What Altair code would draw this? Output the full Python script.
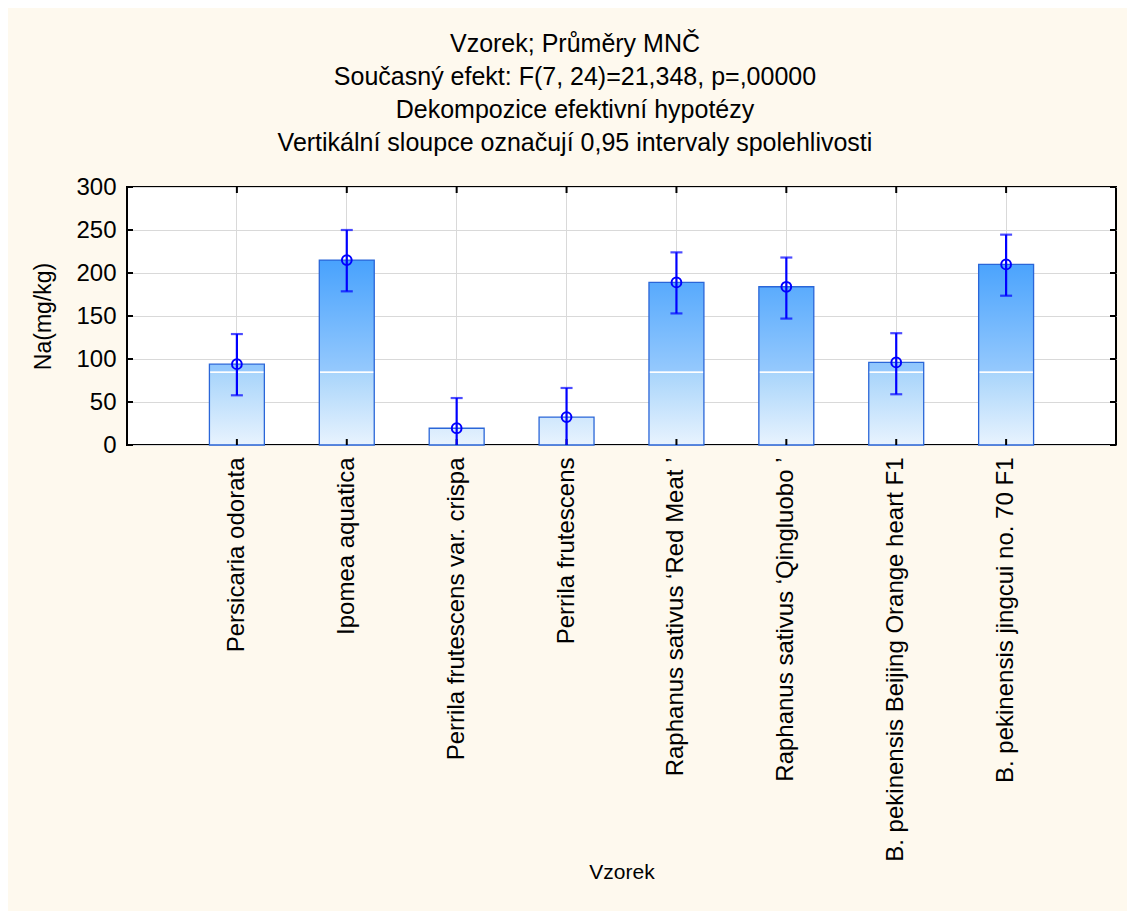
import altair as alt
import pandas as pd

categories = [
    "Persicaria odorata",
    "Ipomea aquatica",
    "Perrila frutescens var. crispa",
    "Perrila frutescens",
    "Raphanus sativus \u2018Red Meat \u2019",
    "Raphanus sativus \u2018Qingluobo \u2019",
    "B. pekinensis Beijing Orange heart F1",
    "B. pekinensis jingcui no. 70 F1",
]
means = [94, 215, 19.5, 32.5, 189, 184, 96, 210]
ci_low = [57.8, 178.7, -16, -2, 153, 147, 59, 173.6]
ci_high = [129, 250, 54.6, 66.3, 224, 218, 130, 244.6]
y_ticks = [0, 50, 100, 150, 200, 250, 300]

title_lines = [
    "Vzorek; Pr\u016fm\u011bry MN\u010c",
    "Sou\u010dasn\u00fd efekt: F(7, 24)=21,348, p=,00000",
    "Dekompozice efektivn\u00ed hypot\u00e9zy",
    "Vertik\u00e1ln\u00ed sloupce ozna\u010duj\u00ed 0,95 intervaly spolehlivosti",
]

YMAX = 300
W, H = 989, 258

df = pd.DataFrame({"cat": categories, "mean": means, "lo": ci_low, "hi": ci_high})
df_y = pd.DataFrame({"v": y_ticks})
df_x = pd.DataFrame({"cat": categories})

xscale = alt.Scale(domain=categories, paddingInner=0.5, paddingOuter=0.75)
yscale = alt.Scale(domain=[0, YMAX], nice=False)

x_enc = alt.X(
    "cat:N",
    scale=xscale,
    sort=None,
    title="Vzorek",
    axis=alt.Axis(
        labelAngle=-90,
        labelAlign="right",
        labelBaseline="middle",
        labelPadding=12,
        labelFontSize=24,
        labelLimit=1000,
        labelColor="black",
        labelFont="Liberation Sans",
        ticks=False,
        domain=False,
        grid=True,
        gridColor="#d9d9d9",
        bandPosition=0.5,
        titleFontSize=21,
        titleFont="Liberation Sans",
        titleFontWeight="normal",
        titleColor="black",
        titleY=427,
        titleBaseline="middle",
    ),
)
y_enc = alt.Y(
    "mean:Q",
    scale=yscale,
    title="Na(mg/kg)",
    axis=alt.Axis(
        values=y_ticks,
        labelFontSize=24,
        labelPadding=11,
        labelColor="black",
        labelFont="Liberation Sans",
        ticks=False,
        domain=False,
        grid=True,
        gridColor="#d9d9d9",
        titleFontSize=23,
        titleFont="Liberation Sans",
        titleFontWeight="normal",
        titleColor="black",
        titlePadding=20,
    ),
)


def off(v):
    return (YMAX - v) / YMAX


layers = []
for i, (c, m) in enumerate(zip(categories, means)):
    y1 = (m - YMAX) / m
    grad = alt.LinearGradient(
        gradient="linear",
        x1=0, x2=0, y1=y1, y2=1,
        stops=[
            alt.GradientStop(offset=0, color="#3596fb"),
            alt.GradientStop(offset=off(215), color="#48a2fd"),
            alt.GradientStop(offset=off(85.6), color="#95c9fd"),
            alt.GradientStop(offset=off(85.4), color="#ffffff"),
            alt.GradientStop(offset=off(83.6), color="#ffffff"),
            alt.GradientStop(offset=off(83.4), color="#a9d5fb"),
            alt.GradientStop(offset=1, color="#e8f3fe"),
        ],
    )
    bar = (
        alt.Chart(df)
        .transform_filter(alt.datum.cat == c)
        .mark_bar(color=grad, stroke="#2a66d8", strokeWidth=1.3)
        .encode(x=x_enc if i == 0 else alt.X("cat:N", scale=xscale, sort=None), y=y_enc if i == 0 else alt.Y("mean:Q", scale=yscale))
    )
    layers.append(bar)

x_plain = alt.X("cat:N", scale=xscale, sort=None)

err = alt.Chart(df).mark_rule(color="#0000ff", strokeWidth=2.2, clip=True).encode(
    x=x_plain, y=alt.Y("lo:Q", scale=yscale), y2="hi:Q"
)
cap_hi = alt.Chart(df).mark_tick(color="#0000ff", size=12, thickness=2.2, clip=True).encode(
    x=x_plain, y=alt.Y("hi:Q", scale=yscale)
)
cap_lo = alt.Chart(df).mark_tick(color="#0000ff", size=12, thickness=2.2, clip=True).encode(
    x=x_plain, y=alt.Y("lo:Q", scale=yscale)
)
pts = alt.Chart(df).mark_point(shape="circle", filled=False, color="#0000ff", size=95, strokeWidth=2, opacity=1).encode(
    x=x_plain, y=alt.Y("mean:Q", scale=yscale)
)

tick_bottom = alt.Chart(df_x).mark_rule(color="black", strokeWidth=2).encode(
    x=x_plain, y=alt.value(H - 6), y2=alt.value(H)
)
tick_top = alt.Chart(df_x).mark_rule(color="black", strokeWidth=2).encode(
    x=x_plain, y=alt.value(0), y2=alt.value(6)
)
tick_right = alt.Chart(df_y).mark_rule(color="black", strokeWidth=2).encode(
    y=alt.Y("v:Q", scale=yscale), x=alt.value(W - 6), x2=alt.value(W)
)
tick_left = alt.Chart(df_y).mark_rule(color="black", strokeWidth=2).encode(
    y=alt.Y("v:Q", scale=yscale), x=alt.value(0), x2=alt.value(6)
)

chart = (
    alt.layer(*layers, tick_bottom, tick_top, tick_left, tick_right, err, cap_hi, cap_lo, pts)
    .properties(
        width=W,
        height=H,
        background="#fef9ee",
        padding={"left": 24, "top": 24, "right": 10, "bottom": 29},
        title=alt.TitleParams(
            text=title_lines,
            fontSize=25,
            font="Liberation Sans",
            fontWeight="normal",
            color="black",
            lineHeight=33,
            anchor="middle",
            frame="bounds",
            offset=19,
        ),
    )
    .configure_view(stroke="black", strokeWidth=2, fill="white")
)

chart.save("out.html", embed_options={"renderer": "svg", "actions": False})
